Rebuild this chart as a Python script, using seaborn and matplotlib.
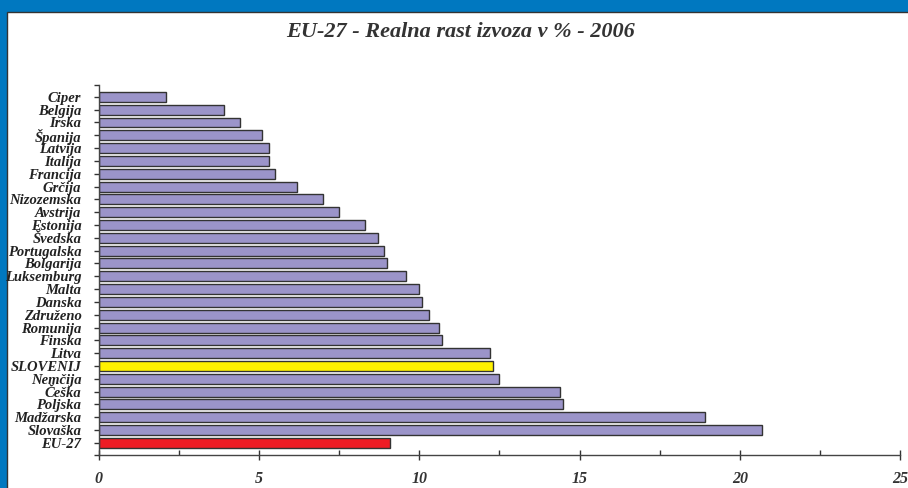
import seaborn as sns
import matplotlib.pyplot as plt
from matplotlib.patches import Rectangle
from matplotlib.ticker import MultipleLocator

# data
countries = ["Ciper", "Belgija", "Irska", "Španija", "Latvija", "Italija", "Francija",
             "Grčija", "Nizozemska", "Avstrija", "Estonija", "Švedska", "Portugalska",
             "Bolgarija", "Luksemburg", "Malta", "Danska", "Združeno", "Romunija",
             "Finska", "Litva", "SLOVENIJ", "Nemčija", "Češka", "Poljska", "Madžarska",
             "Slovaška", "EU-27"]
growth = [2.1, 3.9, 4.4, 5.1, 5.3, 5.3, 5.5, 6.2, 7.0, 7.5, 8.3, 8.7, 8.9, 9.0, 9.6,
          10.0, 10.1, 10.3, 10.6, 10.7, 12.2, 12.3, 12.5, 14.4, 14.5, 18.9, 20.7, 9.1]
x_ticks = [0, 5, 10, 15, 20, 25]
title = "EU-27 - Realna rast izvoza v % - 2006"

bar_color = "#9b94c9"
colors = {c: bar_color for c in countries}
colors["SLOVENIJ"] = "#fff200"
colors["EU-27"] = "#ed1c24"

sns.set_style("ticks")
plt.rcParams["font.family"] = ["Liberation Serif", "DejaVu Serif"]

fig = plt.figure(figsize=(9.08, 4.88), dpi=100)
fig.patch.set_facecolor("#0078c0")
W, H = 908, 488
# white panel (blue frame only visible at top and left)
fig.patches.append(Rectangle((6.5 / W, -0.05), 1.1, (H - 12.5) / H + 0.05,
                             transform=fig.transFigure, facecolor="white",
                             edgecolor="#333333", linewidth=1, zorder=-10))

ax = fig.add_axes([98.8 / W, 1 - 455 / H, (900 - 98.8) / W, (455 - 84.7) / H])
ax.patch.set_alpha(0)

sns.barplot(x=growth, y=countries, hue=countries, palette=colors, legend=False,
            orient="h", width=0.78, saturation=1, edgecolor="#333333",
            linewidth=1, ax=ax)

ax.set_xlim(0, 25)
ax.set_ylim(27.95, -0.95)
ax.set_xticks(x_ticks)
ax.xaxis.set_minor_locator(MultipleLocator(2.5))
ax.set_yticks([-0.95, 27.95], minor=True)
ax.set_xlabel("")
ax.set_ylabel("")

for s in ["top", "right"]:
    ax.spines[s].set_visible(False)
for s in ["left", "bottom"]:
    ax.spines[s].set_color("#444444")
    ax.spines[s].set_linewidth(1)

ax.tick_params(axis="x", which="major", direction="inout", length=7, width=1,
               color="#333333", pad=8, labelsize=11.5, labelcolor="#333333")
ax.tick_params(axis="x", which="minor", direction="in", length=3.5, width=1,
               color="#333333")
ax.tick_params(axis="y", which="both", direction="out", length=3.5, width=1,
               color="#333333", pad=9, labelsize=10.5, labelcolor="#222222")
for lab in ax.get_xticklabels() + ax.get_yticklabels():
    lab.set_fontweight("bold")
    lab.set_fontstyle("italic")

fig.text(461 / W, 1 - 32 / H, title, ha="center", va="center", fontsize=16,
         fontweight="bold", fontstyle="italic", color="#333333")

fig.savefig("out.png", dpi=100, facecolor=fig.get_facecolor())
